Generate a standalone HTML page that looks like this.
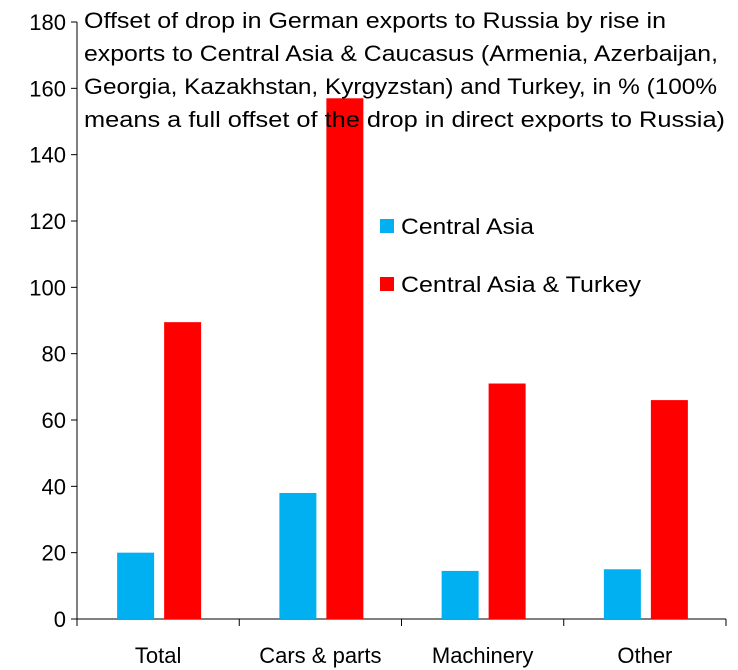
<!DOCTYPE html>
<html><head><meta charset="utf-8"><style>
body{margin:0;background:#fff;}
svg{display:block;font-family:"Liberation Sans",Arial,sans-serif;}
</style></head><body>
<svg id="chart" width="738" height="670">
<g id="axes"></g><g id="bars"></g>
<g font-size="22" fill="#000">
<text x="84" y="28" textLength="582" lengthAdjust="spacingAndGlyphs">Offset of drop in German exports to Russia by rise in</text>
<text x="84" y="61" textLength="634" lengthAdjust="spacingAndGlyphs">exports to Central Asia &amp; Caucasus (Armenia, Azerbaijan,</text>
<text x="84" y="94" textLength="633" lengthAdjust="spacingAndGlyphs">Georgia, Kazakhstan, Kyrgyzstan) and Turkey, in % (100%</text>
<text x="84" y="127" textLength="641" lengthAdjust="spacingAndGlyphs">means a full offset of the drop in direct exports to Russia)</text>
</g>
<g font-size="22">
<rect x="380" y="219" width="14" height="14" fill="#00b0f0"/>
<text x="401" y="234" textLength="133" lengthAdjust="spacingAndGlyphs">Central Asia</text>
<rect x="380" y="277" width="14" height="14" fill="#ff0000"/>
<text x="401" y="292" textLength="240" lengthAdjust="spacingAndGlyphs">Central Asia &amp; Turkey</text>
</g>
</svg>
<script>
const categories=["Total","Cars & parts","Machinery","Other"];
const centralAsia=[20,38,14.5,15];
const centralAsiaTurkey=[89.5,157,71,66];
const yTicks=[0,20,40,60,80,100,120,140,160,180];
const NS="http://www.w3.org/2000/svg";
const x0=77,x1=726,yBase=619,yTop=22,yMax=180;
const y=v=>yBase-(v/yMax)*(yBase-yTop);
const bandW=(x1-x0)/categories.length;
const xc=i=>x0+bandW*(i+0.5);
function mk(tag,attrs,parent){const e=document.createElementNS(NS,tag);for(const k in attrs)e.setAttribute(k,attrs[k]);parent.appendChild(e);return e;}
const axes=document.getElementById('axes'),bars=document.getElementById('bars');
let yl=mk('line',{x1:x0,y1:yTop,x2:x0,y2:yBase,stroke:'#000','stroke-width':1},axes);


let xl=mk('line',{x1:x0,y1:yBase,x2:x1,y2:yBase,stroke:'#000','stroke-width':1},axes);


yTicks.forEach(t=>{
 let tk=mk('line',{x1:x0-6,y1:y(t),x2:x0,y2:y(t),stroke:'#000'},axes);
 
 
 let tx=mk('text',{x:x0-11,y:y(t)+8,'text-anchor':'end','font-size':22},axes);
 tx.textContent=t;
 
 
});
for(let i=0;i<=categories.length;i++){
 let tk=mk('line',{x1:x0+bandW*i,y1:yBase,x2:x0+bandW*i,y2:yBase+7,stroke:'#000'},axes);
 
 
}
categories.forEach((c,i)=>{
 let tx=mk('text',{x:xc(i),y:yBase+44,'text-anchor':'middle','font-size':22},axes);
 tx.textContent=c;
 
 
 let b1=mk('rect',{x:xc(i)-41,y:y(centralAsia[i]),width:37,height:yBase-y(centralAsia[i]),fill:'#00b0f0'},bars);
 
 
 let b2=mk('rect',{x:xc(i)+6,y:y(centralAsiaTurkey[i]),width:37,height:yBase-y(centralAsiaTurkey[i]),fill:'#ff0000'},bars);
 
 
});
</script>
</body></html>
